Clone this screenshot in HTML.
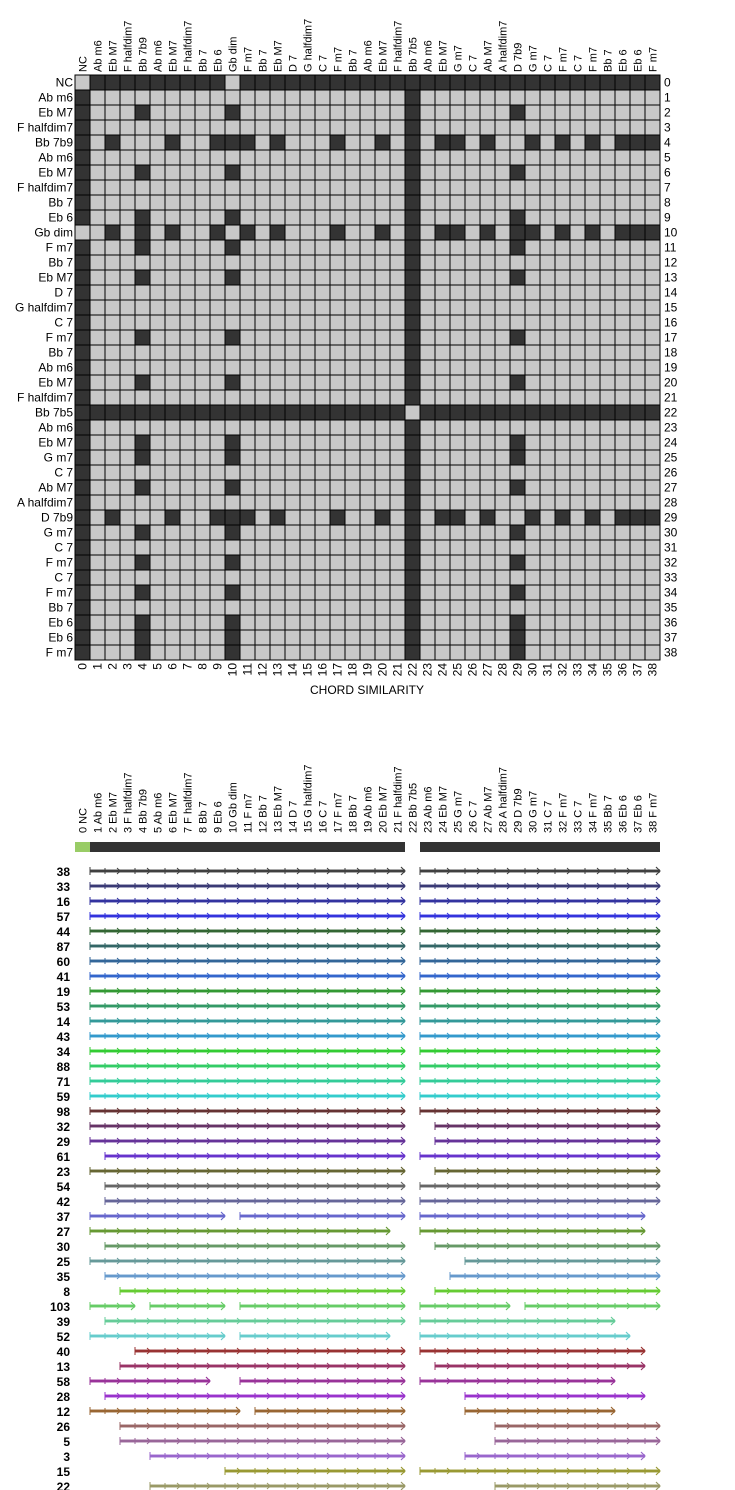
<!DOCTYPE html>
<html><head><meta charset="utf-8"><style>
body{margin:0;background:#fff;width:735px;height:1490px;overflow:hidden}
svg{display:block;font-family:"Liberation Sans",sans-serif}
</style></head><body>
<svg id="svg" width="735" height="1490" xmlns="http://www.w3.org/2000/svg">
<g id="matrix"></g>
<g id="mlabels"></g>
<text x="367" y="694" text-anchor="middle" font-size="12" fill="#000">CHORD SIMILARITY</text>
<g id="arcs"></g>
</svg>
<script>
const chords=["NC","Ab m6","Eb M7","F halfdim7","Bb 7b9","Ab m6","Eb M7","F halfdim7","Bb 7","Eb 6","Gb dim","F m7","Bb 7","Eb M7","D 7","G halfdim7","C 7","F m7","Bb 7","Ab m6","Eb M7","F halfdim7","Bb 7b5","Ab m6","Eb M7","G m7","C 7","Ab M7","A halfdim7","D 7b9","G m7","C 7","F m7","C 7","F m7","Bb 7","Eb 6","Eb 6","F m7"];
const dimGroup=[4,10,29];
const dimPartners=[2,6,9,11,13,17,20,24,25,27,30,32,34,36,37,38];
const dimPairs=[[4,10],[10,29]];
const rowLabels=["38","33","16","57","44","87","60","41","19","53","14","43","34","88","71","59","98","32","29","61","23","54","42","37","27","30","25","35","8","103","39","52","40","13","58","28","12","26","5","3","15","22"];
const rowSegments=[
[[1,22],[23,39]],[[1,22],[23,39]],[[1,22],[23,39]],[[1,22],[23,39]],[[1,22],[23,39]],[[1,22],[23,39]],[[1,22],[23,39]],[[1,22],[23,39]],[[1,22],[23,39]],[[1,22],[23,39]],[[1,22],[23,39]],[[1,22],[23,39]],[[1,22],[23,39]],[[1,22],[23,39]],[[1,22],[23,39]],[[1,22],[23,39]],[[1,22],[23,39]],
[[1,22],[24,39]],[[1,22],[24,39]],[[2,22],[23,39]],[[1,22],[24,39]],[[2,22],[23,39]],[[2,22],[23,39]],
[[1,10],[11,22],[23,38]],[[1,21],[23,38]],[[2,22],[24,39]],[[1,22],[26,39]],[[2,22],[25,39]],[[3,22],[24,39]],
[[1,4],[5,10],[11,22],[23,29],[30,39]],[[2,22],[23,36]],[[1,10],[11,21],[23,37]],[[4,22],[23,38]],[[3,22],[24,38]],
[[1,9],[11,22],[23,36]],[[2,22],[26,38]],[[1,11],[12,22],[26,36]],[[3,22],[28,39]],[[3,22],[28,39]],[[5,22],[26,38]],[[10,22],[23,39]],[[5,22],[28,39]]];
const rowColors=["#404040","#3a3a75","#3333a0","#3333dd","#336633","#336666","#336699","#3366cc","#339933","#339966","#339999","#3399cc","#33cc33","#33cc66","#33cc99","#33cccc","#663333","#663366","#663399","#6633cc","#666633","#666666","#666699","#6666cc","#669933","#669966","#669999","#6699cc","#66cc33","#66cc66","#66cc99","#66cccc","#993333","#993366","#993399","#9933cc","#996633","#996666","#996699","#9966cc","#999933","#999966"];

const NS="http://www.w3.org/2000/svg";
const X0=75,Y0=75,C=15;
const xs=k=>X0+C*k;
const ys=k=>Y0+C*k;
function mk(tag,attrs,parent){const e=document.createElementNS(NS,tag);for(const k in attrs)e.setAttribute(k,attrs[k]);parent.appendChild(e);return e;}
function isDark(i,j){
  if(i===j)return false;
  if(i===0||j===0){const o=i===0?j:i;return o!==10;}
  if(i===22||j===22)return true;
  const di=dimGroup.includes(i),dj=dimGroup.includes(j);
  if(di&&dimPartners.includes(j))return true;
  if(dj&&dimPartners.includes(i))return true;
  if(di&&dj)return dimPairs.some(p=>(p[0]===i&&p[1]===j)||(p[0]===j&&p[1]===i));
  return false;
}
const M=document.getElementById('matrix'),L=document.getElementById('mlabels'),A=document.getElementById('arcs');
const n=chords.length;
for(let i=0;i<n;i++)for(let j=0;j<n;j++){
  const r=mk('rect',{x:xs(j),y:ys(i),width:C,height:C,fill:isDark(i,j)?'#333333':'#c8c8c8',stroke:'#000','stroke-width':1},M);
  
  
}
for(let i=0;i<n;i++){
  const t=mk('text',{x:73,y:ys(i)+11.5,'text-anchor':'end','font-size':12},L);t.textContent=chords[i];
  
  
  const r=mk('text',{x:664,y:ys(i)+11.5,'font-size':12},L);r.textContent=i;
  
  
  const c=mk('text',{transform:`translate(${xs(i)+11.5},72) rotate(-90)`,'font-size':11},L);c.textContent=chords[i];
  
  
  const b=mk('text',{transform:`translate(${xs(i)+11.5},663) rotate(-90)`,'text-anchor':'end','font-size':12},L);b.textContent=i;
  
  
  const p=mk('text',{transform:`translate(${xs(i)+11.5},833) rotate(-90)`,'font-size':11},A);p.textContent=i+' '+chords[i];
  
  
}
let bar=mk('rect',{x:xs(0),y:842,width:C,height:10,fill:'#99cc66'},A);


bar=mk('rect',{x:xs(1),y:842,width:xs(22)-xs(1),height:10,fill:'#333'},A);


bar=mk('rect',{x:xs(23),y:842,width:xs(39)-xs(23),height:10,fill:'#333'},A);


const RY0=871,RS=15;
rowLabels.forEach((lab,r)=>{
  const y=RY0+RS*r,col=rowColors[r];
  const t=mk('text',{x:70,y:y+5,'text-anchor':'end','font-size':12,'font-weight':'bold'},A);t.textContent=lab;
  
  
  const g=mk('g',{},A);
  
  
  rowSegments[r].forEach(s=>{
    const a=xs(s[0]),b=xs(s[1]);
    mk('line',{x1:a,y1:y,x2:b,y2:y,stroke:col,'stroke-width':4,'stroke-opacity':0.45},g);
    const ln=mk('line',{x1:a,y1:y,x2:b,y2:y,stroke:col,'stroke-width':2},g);
    
    
    mk('line',{x1:a,y1:y-4,x2:a,y2:y+4,stroke:col,'stroke-width':1},g);
    for(let k=s[0]+1;k<s[1];k++){
      const x=xs(k);
      if(k%2===0) mk('line',{x1:x,y1:y-3,x2:x,y2:y+3,stroke:col,'stroke-width':1},g);
      else mk('path',{d:`M${x-3},${y-3}L${x},${y}L${x-3},${y+3}`,fill:'none',stroke:col,'stroke-width':1},g);
    }
    mk('path',{d:`M${b-4},${y-4}L${b},${y}L${b-4},${y+4}`,fill:'none',stroke:col,'stroke-width':1.2},g);
  });
});
</script>
</body></html>
